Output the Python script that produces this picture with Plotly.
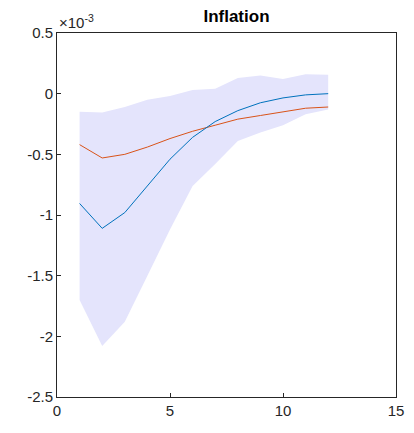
import plotly.graph_objects as go

# horizon (quarters)
h = list(range(1, 13))
# values in units of 1e-3
blue = [-0.905, -1.11, -0.98, -0.76, -0.54, -0.36, -0.23, -0.14, -0.075, -0.035, -0.01, 0.0]
red = [-0.42, -0.53, -0.50, -0.44, -0.37, -0.31, -0.26, -0.21, -0.18, -0.15, -0.12, -0.11]
upper = [-0.15, -0.155, -0.11, -0.05, -0.02, 0.03, 0.04, 0.13, 0.15, 0.12, 0.16, 0.155]
lower = [-1.70, -2.08, -1.88, -1.50, -1.12, -0.76, -0.58, -0.39, -0.32, -0.26, -0.17, -0.13]

fig = go.Figure()
fig.add_trace(go.Scatter(x=h + h[::-1], y=upper + lower[::-1], fill="toself",
                         fillcolor="rgba(228,228,252,1)", line=dict(width=0), hoverinfo="skip"))
fig.add_trace(go.Scatter(x=h, y=red, mode="lines", line=dict(color="#D95319", width=1)))
fig.add_trace(go.Scatter(x=h, y=blue, mode="lines", line=dict(color="#0072BD", width=1)))

ax = dict(showgrid=False, zeroline=False, showline=True, mirror=True, linecolor="#262626",
          linewidth=1, ticks="inside", ticklen=4, tickcolor="#262626",
          tickfont=dict(size=15, color="#262626"))
fig.update_xaxes(range=[0, 15], tickvals=[0, 5, 10, 15], **ax)
fig.update_yaxes(range=[-2.5, 0.5], tickvals=[-2.5, -2, -1.5, -1, -0.5, 0, 0.5],
                 ticktext=["-2.5", "-2", "-1.5", "-1", "-0.5", "0", "0.5"], **ax)
fig.update_layout(
    width=408, height=423, showlegend=False,
    plot_bgcolor="white", paper_bgcolor="white",
    font=dict(family="Liberation Sans, Arial", color="#262626"),
    margin=dict(l=49, r=12, t=25, b=30),
    title=dict(text="<b>Inflation</b>", x=0.56, xanchor="center", y=0.995, yanchor="top",
               font=dict(size=17, color="black")),
    annotations=[dict(text="×10<sup>-3</sup>", xref="paper", yref="paper", x=0, y=1,
                      xanchor="left", yanchor="bottom", showarrow=False, font=dict(size=15))],
)
fig.write_html("out.html")
